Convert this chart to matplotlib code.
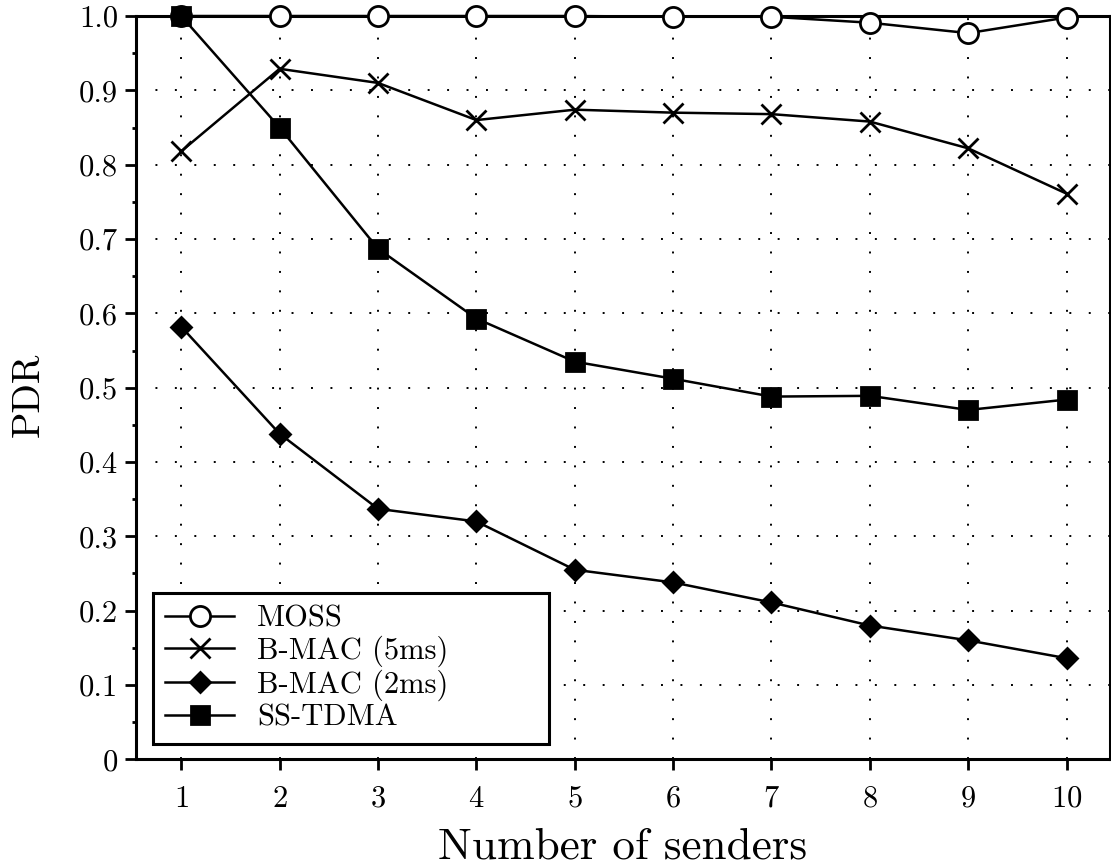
import numpy as np
import matplotlib
matplotlib.use("Agg")
import matplotlib.pyplot as plt
from matplotlib.ticker import FuncFormatter, MultipleLocator

plt.rcParams['font.family'] = ['cmr10', 'DejaVu Serif']
plt.rcParams['axes.formatter.use_mathtext'] = True

### DATA
senders = [1, 2, 3, 4, 5, 6, 7, 8, 9, 10]
moss = [1.0, 1.0, 1.0, 1.0, 1.0, 0.999, 0.999, 0.991, 0.977, 0.998]
bmac_5ms = [0.818, 0.929, 0.910, 0.860, 0.874, 0.870, 0.868, 0.858, 0.822, 0.761]
bmac_2ms = [0.582, 0.438, 0.337, 0.320, 0.255, 0.238, 0.211, 0.180, 0.160, 0.136]
ss_tdma = [1.0, 0.850, 0.687, 0.593, 0.535, 0.512, 0.488, 0.489, 0.470, 0.484]

series = [
    ("MOSS", moss, dict(marker='o', markersize=14.5, markerfacecolor='white')),
    ("B-MAC (5ms)", bmac_5ms, dict(marker='x', markersize=14, markeredgewidth=2)),
    ("B-MAC (2ms)", bmac_2ms, dict(marker='D', markersize=10, markerfacecolor='black')),
    ("SS-TDMA", ss_tdma, dict(marker='s', markersize=13.5, markerfacecolor='black')),
]

### PLOT
fig = plt.figure(figsize=(11.11, 8.66), dpi=100)
ax = fig.add_axes([0.1224, 0.1232, 0.8766, 0.8583])

for name, vals, style in series:
    ax.plot(senders, vals, color='black', linewidth=1.8, label=name,
            markeredgecolor='black', markeredgewidth=style.pop('markeredgewidth', 2),
            clip_on=False, zorder=3, **style)

ax.set_xlim(0.54, 10.44)
ax.set_ylim(0, 1.0)
ax.set_xticks(senders)
ax.yaxis.set_major_locator(MultipleLocator(0.1))
ax.yaxis.set_minor_locator(MultipleLocator(0.05))
ax.yaxis.set_major_formatter(FuncFormatter(lambda v, p: "0" if abs(v) < 1e-9 else "%.1f" % v))

for s in ax.spines.values():
    s.set_linewidth(2.2)

ax.tick_params(axis='both', which='major', direction='out', length=8, width=2,
               labelsize=22)
ax.tick_params(axis='x', pad=26)
ax.tick_params(axis='y', pad=5)
ax.tick_params(axis='y', which='minor', direction='out', length=3, width=2)
plt.setp(ax.get_xticklabels(), va='baseline')

ax.grid(True, which='major', color='black', linewidth=1.4, linestyle=(0, (1, 9)))
ax.set_axisbelow(True)

ax.set_xlabel('Number of senders', fontsize=32.5, va='baseline')
ax.xaxis.set_label_coords(0.5, -0.134)
ax.set_ylabel('PDR', fontsize=28, va='baseline')
ax.yaxis.set_label_coords(-0.0996, 0.49)

leg = ax.legend(loc='lower left', bbox_to_anchor=(0.0175, 0.0206, 0.4066, 0.2), borderaxespad=0,
                mode='expand', fontsize=22, fancybox=False, edgecolor='black', framealpha=1,
                handlelength=2.25, handletextpad=0.75, labelspacing=0.1, borderpad=0.4)
leg.get_frame().set_linewidth(2.2)

fig.savefig('out.png', dpi=100)
